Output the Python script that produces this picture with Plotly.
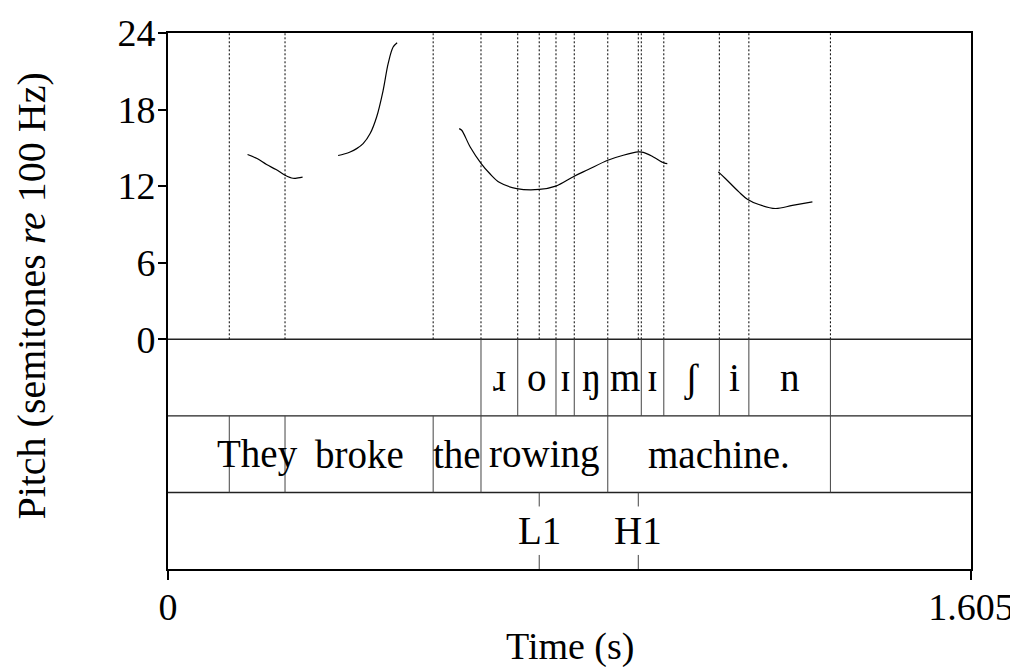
import plotly.graph_objects as go

# time range of the recording (s)
t_start = 0.0
t_end = 1.605

# tier 1: phones (interval boundaries, s)
phone_bounds = [0.6256, 0.699, 0.7755, 0.812, 0.879, 0.946, 0.991, 1.102, 1.161, 1.324]
phone_labels = ['ɹ', 'o', 'ɪ', 'ŋ', 'm', 'ɪ', 'ʃ', 'i', 'n']

# tier 2: words
word_bounds = [0.1225, 0.2339, 0.530, 0.6256, 0.879, 1.324]
word_labels = ['They', 'broke', 'the', 'rowing', 'machine.']

# tier 3: tones (points)
tone_times = [0.742, 0.940]
tone_labels = ['L1', 'H1']

# pitch contour in semitones re 100 Hz, None = unvoiced gap
pitch_t = [0.159, 0.178, 0.197, 0.216, 0.234, 0.250, 0.260, 0.269, None,
           0.340, 0.352, 0.364, 0.377, 0.390, 0.404, 0.417, 0.430, 0.440, 0.450, 0.458, None,
           0.582, 0.587, 0.604, 0.626, 0.643, 0.663, 0.697, 0.742, 0.775, 0.812, 0.840,
           0.879, 0.910, 0.940, 0.950, 0.970, 0.991, 0.998, None,
           1.100, 1.114, 1.141, 1.158, 1.181, 1.214, 1.248, 1.288]
pitch_st = [14.48, 14.16, 13.69, 13.30, 12.86, 12.62, 12.65, 12.70, None,
            14.40, 14.52, 14.68, 14.94, 15.33, 16.12, 17.42, 19.50, 21.60, 22.90, 23.24, None,
            16.51, 16.38, 15.07, 13.77, 12.99, 12.28, 11.81, 11.74, 12.00, 12.78, 13.30,
            14.03, 14.42, 14.68, 14.65, 14.29, 13.82, 13.77, None,
            13.12, 12.60, 11.55, 10.98, 10.56, 10.25, 10.49, 10.77]

y_ticks = [0, 6, 12, 18, 24]

FONT = 'Liberation Serif'
TICK = 38
TIER = 39


def vline(x, y0, y1, dash='solid', color='black', width=1):
    return dict(type='line', xref='x', yref='y', x0=x, x1=x, y0=y0, y1=y1,
                line=dict(color=color, width=width, dash=dash))


def hline(y):
    return dict(type='line', xref='x', yref='y', x0=t_start, x1=t_end, y0=y, y1=y,
                line=dict(color='#222', width=1.4))


def main():
    '''Draw pitch track with TextGrid tiers below.'''
    fig = go.Figure()
    fig.add_trace(go.Scatter(x=pitch_t, y=pitch_st, mode='lines',
                             line=dict(color='black', width=1.2, shape='spline'),
                             connectgaps=False, hoverinfo='skip'))

    shapes = []
    # dotted boundary lines in the pitch area
    for t in sorted(set(phone_bounds + word_bounds + tone_times)):
        shapes.append(vline(t, 0, 24, dash='2px,2px', width=1))
    # tier separators
    for y in [0, -6, -12]:
        shapes.append(hline(y))
    # interval boundaries
    for t in phone_bounds:
        shapes.append(vline(t, -6, 0, color='#444'))
    for t in word_bounds:
        shapes.append(vline(t, -12, -6, color='#444'))
    # point tier marks
    for t in tone_times:
        shapes.append(vline(t, -13.1, -12, color='#444'))
        shapes.append(vline(t, -18, -16.9, color='#444'))

    tier_font = dict(family=FONT, size=TIER, color='black')
    ann = []
    for i, lab in enumerate(phone_labels):
        ann.append(dict(x=(phone_bounds[i] + phone_bounds[i + 1]) / 2, y=-3, text=lab,
                        xref='x', yref='y', showarrow=False, font=tier_font))
    for i, lab in enumerate(word_labels):
        ann.append(dict(x=(word_bounds[i] + word_bounds[i + 1]) / 2, y=-9, text=lab,
                        xref='x', yref='y', showarrow=False, font=tier_font))
    for t, lab in zip(tone_times, tone_labels):
        ann.append(dict(x=t, y=-15, text=lab, xref='x', yref='y', showarrow=False,
                        font=tier_font))
    ann.append(dict(x=0.5, y=-0.144, xref='paper', yref='paper', text='Time (s)',
                    showarrow=False, xanchor='center', yanchor='middle',
                    font=dict(family=FONT, size=TICK)))
    ann.append(dict(x=-0.1694, y=0.51, xref='paper', yref='paper',
                    text='Pitch (semitones <i>re</i> 100 Hz)', textangle=-90,
                    showarrow=False, xanchor='center', yanchor='middle',
                    font=dict(family=FONT, size=40)))

    # page body has an 8px margin, so the figure is 8px smaller on each side
    fig.update_layout(
        width=1010, height=659,
        margin=dict(l=160, r=47, t=25, b=98),
        paper_bgcolor='white', plot_bgcolor='white',
        showlegend=False,
        font=dict(family=FONT, size=TICK, color='black'),
        shapes=shapes, annotations=ann,
    )
    fig.update_xaxes(range=[t_start, t_end], tickvals=[t_start, t_end],
                     ticktext=['0', '1.605'], ticks='outside', ticklen=9,
                     tickwidth=2, tickcolor='black', showgrid=False, zeroline=False,
                     showline=True, linecolor='black', linewidth=2, mirror=True,
                     automargin=False,
                     ticklabelstandoff=-6, tickfont=dict(family=FONT, size=TICK))
    fig.update_yaxes(range=[-18, 24], tickvals=y_ticks, ticks='outside', ticklen=8,
                     tickwidth=1.5, tickcolor='black', showgrid=False, zeroline=False,
                     showline=True, linecolor='black', linewidth=2, mirror=True,
                     automargin=False,
                     ticklabelstandoff=-5, tickfont=dict(family=FONT, size=TICK))
    fig.write_html('out.html')


if __name__ == '__main__':
    main()
